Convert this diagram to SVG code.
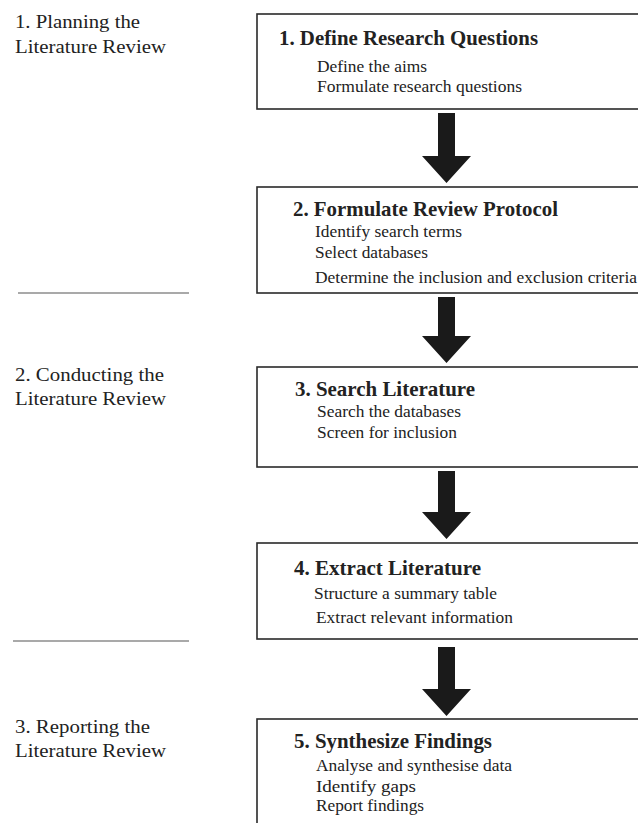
<svg xmlns="http://www.w3.org/2000/svg" width="638" height="823" viewBox="0 0 638 823">
<style>
.box{fill:#fff;stroke:#2a2a2a;stroke-width:1.6}
.t{font-family:"Times New Roman","Liberation Serif",Times,serif;fill:#222}
.h{font-size:21px;font-weight:bold}
.i{font-size:17.5px}
.l{font-size:19.5px}
.sep{stroke:#555;stroke-width:1.2}
.arr{fill:#1a1a1a}
</style>
<rect width="638" height="823" fill="#fff"/>
<g id="phases">
<text class="t l" x="15" y="28" textLength="125" lengthAdjust="spacingAndGlyphs">1. Planning the</text>
<text class="t l" x="15" y="53" textLength="151" lengthAdjust="spacingAndGlyphs">Literature Review</text>
<line class="sep" x1="18" y1="293" x2="189" y2="293"/>
<text class="t l" x="15" y="381" textLength="149" lengthAdjust="spacingAndGlyphs">2. Conducting the</text>
<text class="t l" x="15" y="405" textLength="151" lengthAdjust="spacingAndGlyphs">Literature Review</text>
<line class="sep" x1="13" y1="641" x2="189" y2="641"/>
<text class="t l" x="15" y="733" textLength="135" lengthAdjust="spacingAndGlyphs">3. Reporting the</text>
<text class="t l" x="15" y="757" textLength="151" lengthAdjust="spacingAndGlyphs">Literature Review</text>
</g>
<g id="node1">
<rect class="box" x="257" y="14" width="420" height="95"/>
<text class="t h" x="279" y="45" textLength="259" lengthAdjust="spacingAndGlyphs">1. Define Research Questions</text>
<text class="t i" x="317" y="72" textLength="110" lengthAdjust="spacingAndGlyphs">Define the aims</text>
<text class="t i" x="317" y="92" textLength="205" lengthAdjust="spacingAndGlyphs">Formulate research questions</text>
</g>
<g id="node2">
<rect class="box" x="257" y="187" width="420" height="106"/>
<text class="t h" x="293" y="216" textLength="265" lengthAdjust="spacingAndGlyphs">2. Formulate Review Protocol</text>
<text class="t i" x="315" y="237" textLength="147" lengthAdjust="spacingAndGlyphs">Identify search terms</text>
<text class="t i" x="315" y="258" textLength="113" lengthAdjust="spacingAndGlyphs">Select databases</text>
<text class="t i" x="315" y="283" textLength="322" lengthAdjust="spacingAndGlyphs">Determine the inclusion and exclusion criteria</text>
</g>
<g id="node3">
<rect class="box" x="257" y="367" width="420" height="100"/>
<text class="t h" x="295" y="396" textLength="180" lengthAdjust="spacingAndGlyphs">3. Search Literature</text>
<text class="t i" x="317" y="417" textLength="144" lengthAdjust="spacingAndGlyphs">Search the databases</text>
<text class="t i" x="317" y="438" textLength="140" lengthAdjust="spacingAndGlyphs">Screen for inclusion</text>
</g>
<g id="node4">
<rect class="box" x="257" y="543" width="420" height="96"/>
<text class="t h" x="294" y="575" textLength="187" lengthAdjust="spacingAndGlyphs">4. Extract Literature</text>
<text class="t i" x="314" y="599" textLength="183" lengthAdjust="spacingAndGlyphs">Structure a summary table</text>
<text class="t i" x="316" y="623" textLength="197" lengthAdjust="spacingAndGlyphs">Extract relevant information</text>
</g>
<g id="node5">
<rect class="box" x="257" y="719" width="420" height="130"/>
<text class="t h" x="294" y="748" textLength="198" lengthAdjust="spacingAndGlyphs">5. Synthesize Findings</text>
<text class="t i" x="316" y="771" textLength="196" lengthAdjust="spacingAndGlyphs">Analyse and synthesise data</text>
<text class="t i" x="316" y="792" textLength="100" lengthAdjust="spacingAndGlyphs">Identify gaps</text>
<text class="t i" x="316" y="811" textLength="108" lengthAdjust="spacingAndGlyphs">Report findings</text>
</g>
<g id="connectors">
<polygon class="arr" points="438,113 455,113 455,156 471,156 446.5,183 422,156 438,156"/>
<polygon class="arr" points="438,297 455,297 455,336 471,336 446.5,363 422,336 438,336"/>
<polygon class="arr" points="438,471 455,471 455,512 471,512 446.5,539 422,512 438,512"/>
<polygon class="arr" points="438,647 455,647 455,689 471,689 446.5,716 422,689 438,689"/>
</g>
</svg>
